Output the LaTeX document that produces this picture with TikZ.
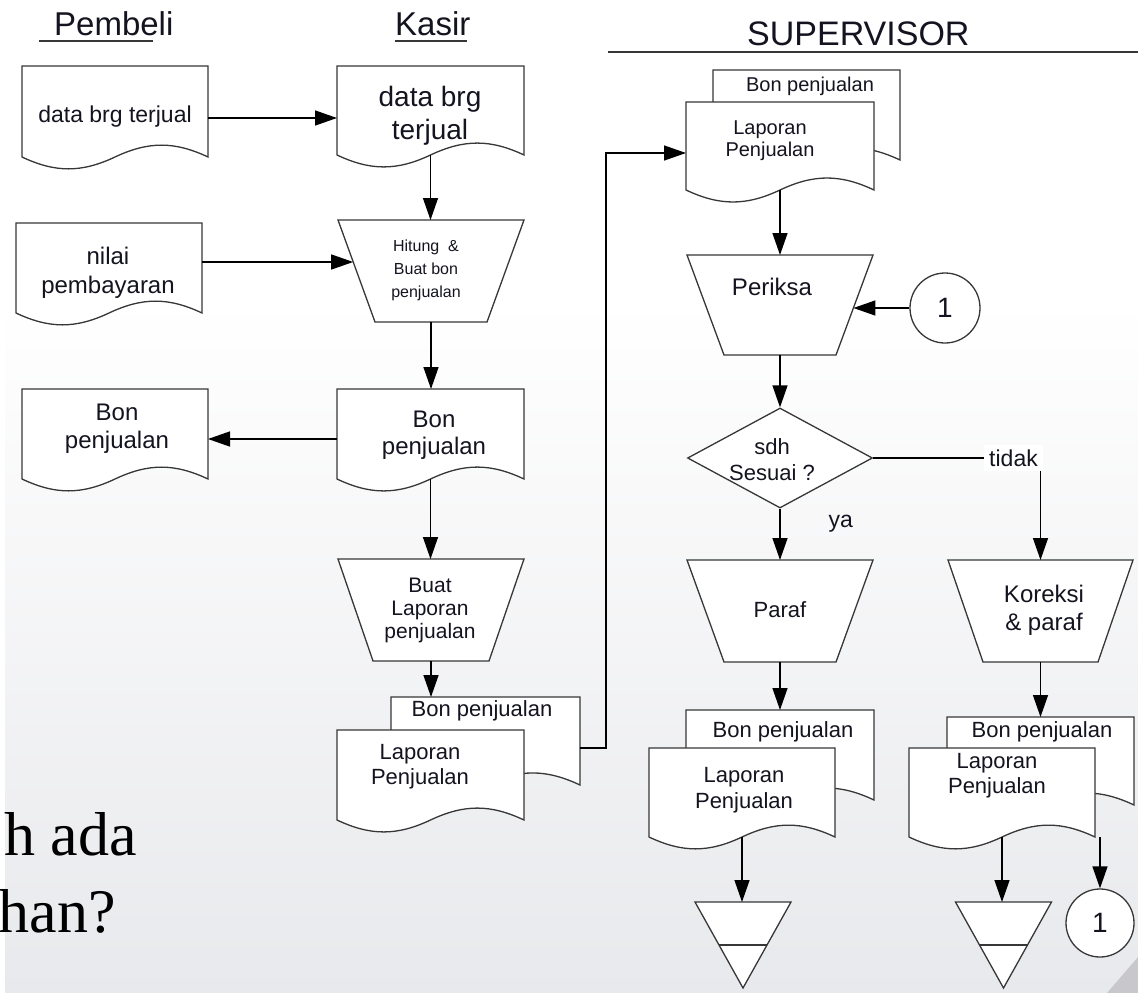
\documentclass[tikz,border=0pt]{standalone}
\usepackage{fontspec}
\setmainfont{Liberation Sans}
\newfontfamily\slidefont{Liberation Serif}
\usetikzlibrary{arrows.meta,shapes.geometric,fit,calc}

\definecolor{bgbot}{RGB}{232,233,236}
\definecolor{outl}{RGB}{55,55,55}
\definecolor{txt}{RGB}{20,20,32}
\definecolor{wedge}{RGB}{200,200,204}

\newcommand\fs[2]{\fontsize{#1}{#2}\selectfont}

\tikzset{
  shapeline/.style={draw=outl, line width=1.3pt, fill=white, line join=miter},
  outline/.style={draw=outl, line width=1.3pt},
  arr/.style={draw=black, line width=1.4pt, -{Triangle[length=22pt,width=15pt]}},
  lbl/.style={text=txt, align=center, inner sep=0pt},
  hdr/.style={text=txt, inner sep=0pt, anchor=base west},
  conn/.style={circle, draw=outl, line width=1.3pt, fill=white, minimum size=70pt,
    inner sep=0pt, text=txt, font=\fs{28}{30}},
  anchorbox/.style={inner sep=0pt, outer sep=0pt, draw=none},
}

% document: name, left, top, right, side-bottom, text position, font, text
\newcommand\docnode[8]{%
  \pgfmathsetmacro\dW{#4-#2}%
  \pgfmathsetmacro\dA{0.085*\dW}%
  \draw[shapeline] (#2,#3) -- (#4,#3) -- (#4,#5)
     .. controls ({#4-0.18*\dW},{#5-\dA}) and ({#4-0.32*\dW},{#5-\dA}) .. ({0.5*(#2+#4)},#5)
     .. controls ({#2+0.32*\dW},{#5+\dA}) and ({#2+0.18*\dW},{#5+\dA}) .. (#2,#5) -- cycle;
  \coordinate (#1-nw) at (#2,#3);
  \coordinate (#1-se) at (#4,#5);
  \node[anchorbox, fit=(#1-nw)(#1-se)] (#1) {};
  \node[lbl, font=#7] (#1-t) at (#6) {#8};
}

% manual operation: name, xl, xr, ytop, ybot, inset, text position, font, text
\newcommand\trapnode[9]{%
  \draw[shapeline] (#2,#4) -- (#3,#4) -- ({#3-#6},#5) -- ({#2+#6},#5) -- cycle;
  \coordinate (#1-tl) at (#2,#4);
  \coordinate (#1-tr) at (#3,#4);
  \coordinate (#1-bl) at ({#2+#6},#5);
  \coordinate (#1-br) at ({#3-#6},#5);
  \node[anchorbox, fit=(#1-tl)(#1-tr)(#1-bl)(#1-br)] (#1) {};
  \node[lbl, font=#8] (#1-t) at (#7) {#9};
}

% archive (offline file): name, centre x, centre y
\newcommand\archnode[3]{%
  \node[anchorbox, minimum width=96pt, minimum height=86pt] (#1) at (#2,#3) {};
  \draw[shapeline] (#1.north west) -- (#1.north east) -- (#1.south) -- cycle;
  \draw[outline] ($(#1.north west)!0.5!(#1.south)$) -- ($(#1.north east)!0.5!(#1.south)$);
}

\begin{document}
\begin{tikzpicture}[x=1pt,y=-1pt]
\useasboundingbox (0,0) rectangle (1138,993);
\fill[white] (0,0) rectangle (1138,993);
\shade[top color=white, bottom color=bgbot] (5,300) rectangle (1138,993);
\fill[wedge] (1138,957) -- (1138,993) -- (1107,993) -- cycle;

% slide text behind the chart
\node[anchor=base east, inner sep=0pt, text=black, font=\slidefont\fs{62}{70}] (slide1) at (137,855) {h ada};
\node[anchor=base east, inner sep=0pt, text=black, font=\slidefont\fs{62}{70}] (slide2) at (116,932) {han?};

% lane headers
\node[hdr, font=\fs{33}{40}] (hPembeli) at (54,35) {Pembeli};
\draw[outline] (39,41) -- (153,41);
\node[hdr, font=\fs{33}{40}] (hKasir) at (395,35) {Kasir};
\draw[outline] (395,41) -- (467,41);
\node[hdr, font=\fs{34}{40}] (hSup) at (747,45) {SUPERVISOR};
\draw[outline] (608,52) -- (1138,52);

% Pembeli / Kasir
\docnode{d1}{22}{66}{208}{157}{115,117}{\fs{23}{27}}{data brg terjual}
\docnode{d2}{337}{66}{524}{155}{430,116}{\fs{28}{33}}{data brg\\terjual}
\trapnode{hit}{338}{524}{220}{322}{37}{426,270}{\fs{16}{23}}{Hitung~ \&\\Buat bon\\penjualan}
\docnode{d3}{16}{223}{202}{313}{108,273}{\fs{24}{29}}{nilai\\pembayaran}
\docnode{d4}{337}{389}{524}{479}{434,435}{\fs{24}{27}}{Bon\\penjualan}
\docnode{d5}{22}{389}{208}{479}{117,429}{\fs{24}{28}}{Bon\\penjualan}
\trapnode{buat}{338}{524}{559}{661}{35}{430,610}{\fs{21}{23}}{Buat\\Laporan\\penjualan}
\docnode{kb}{391}{697}{580}{785}{482,711}{\fs{22}{26}}{Bon penjualan}
\docnode{kf}{337}{730}{524}{820}{420,767}{\fs{22}{25}}{Laporan\\Penjualan}

% Supervisor
\docnode{sb}{713}{70}{900}{160}{810,86}{\fs{20}{24}}{Bon penjualan}
\docnode{sf}{686}{102}{874}{190}{770,141}{\fs{20}{22}}{Laporan\\Penjualan}
\trapnode{per}{687}{873}{255}{355}{37}{772,287}{\fs{24}{28}}{Periksa}
\node[conn] (c1) at (945,308) {1};
\node[diamond, draw=outl, line width=1.3pt, fill=white, minimum width=185pt,
      minimum height=100pt, inner sep=0pt, aspect=1.85] (dia) at (780,458) {};
\node[lbl, font=\fs{22}{26}] (dia-t) at (772,460) {sdh\\Sesuai ?};
\trapnode{par}{687}{873}{560}{662}{37}{780,610}{\fs{22}{26}}{Paraf}
\trapnode{kor}{948}{1133}{560}{662}{35}{1044,610}{\fs{24}{28}}{Koreksi\\\& paraf}
\docnode{pb}{686}{710}{874}{800}{783,732}{\fs{22}{26}}{Bon penjualan}
\docnode{pf}{649}{748}{835}{837}{744,790}{\fs{22}{26}}{Laporan\\Penjualan}
\docnode{qb}{947}{717}{1134}{805}{1042,732}{\fs{22}{26}}{Bon penjualan}
\docnode{qf}{909}{748}{1095}{837}{997,776}{\fs{22}{25}}{Laporan\\Penjualan}
\archnode{arch1}{743}{945}
\archnode{arch2}{1003.5}{945}
\node[conn, minimum size=68pt] (c2) at (1100,923) {1};

% connectors
\coordinate (a1) at ($(d1.east)+(0,6.5)$);
\draw[arr] (a1) -- (a1 -| d2.west);
\draw[arr] (d2.south) -- (d2.south |- hit.north);
\coordinate (hitw) at ($(hit-tl)!0.41!(hit-bl)$);
\coordinate (a3) at ($(d3.east)+(0,-6)$);
\draw[arr] (a3) -- (a3 -| hitw);
\draw[arr] (hit.south) -- (hit.south |- d4.north);
\coordinate (a5) at ($(d4.west)+(0,5)$);
\draw[arr] (a5) -- (a5 -| d5.east);
\draw[arr] (d4.south) -- (d4.south |- buat.north);
\draw[arr] (buat.south) -- (buat.south |- kb.north);
\coordinate (bend) at (606,0);
\coordinate (a8) at ($(kb.east)+(0,7)$);
\coordinate (a8e) at ($(sf.west)+(0,7)$);
\draw[arr] (a8) -- (a8 -| bend) -- (bend |- a8e) -- (a8e);
\draw[arr] (sf.south) -- (sf.south |- per.north);
\coordinate (perw) at ($(per-tr)!0.53!(per-br)$);
\draw[arr] (c1.west) -- (c1.west -| perw);
\draw[arr] (per.south) -- (dia.north);
\draw[arr] (dia.south) -- (par.north)
   node[lbl, pos=0.3, anchor=west, xshift=48pt, font=\fs{23}{26}] (ya) {ya};
\draw[arr] (dia.east) -- (dia.east -| kor.north)
   node[lbl, fill=white, inner sep=5pt, xshift=-27pt, font=\fs{23}{26}] (tidak) {tidak}
   -- (kor.north);
\draw[arr] (par.south) -- (par.south |- pb.north);
\draw[arr] (pf.south) -- (pf.south |- arch1.north);
\draw[arr] (kor.south) -- (kor.south |- qb.north);
\draw[arr] (qf.south) -- (qf.south |- arch2.north);
\draw[arr] (c2.north |- qf.south) -- (c2.north);
\end{tikzpicture}
\end{document}
